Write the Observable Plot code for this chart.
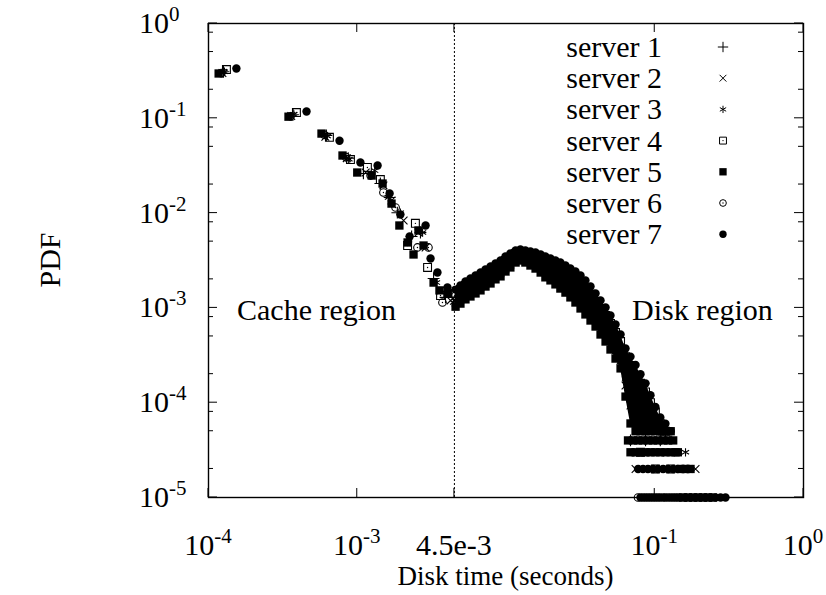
<!DOCTYPE html>
<html>
<head>
<meta charset="utf-8">
<script src="https://cdn.jsdelivr.net/npm/d3@7"></script>
<script src="https://cdn.jsdelivr.net/npm/@observablehq/plot@0.6"></script>
<style>
  body { margin: 0; background: #fff; }
  #chart { position: relative; width: 826px; height: 595px; }
</style>
</head>
<body>
<div id="chart"></div>
<script>
// ---------- data ----------
const servers = ["server 1", "server 2", "server 3", "server 4", "server 5", "server 6", "server 7"];
const cacheLimit = 4.5e-3; // seconds: boundary between cache hits and disk accesses

// Cache region: [disk time (s), PDF] per server
const cache1 = [[1.26e-4,0.31],[3.70e-4,0.109],[6.2e-4,0.066],[8.7e-4,0.038],[1.10e-3,0.0262],[1.43e-3,0.0205],[1.65e-3,0.0146],[1.86e-3,0.0101],[2.32e-3,0.00566],[2.66e-3,0.00624],[3.26e-3,0.00204],[3.92e-3,0.00129]];
const cache2 = [[1.24e-4,0.30],[3.6e-4,0.106],[6.1e-4,0.064],[8.5e-4,0.038],[1.14e-3,0.0268],[1.50e-3,0.0196],[1.70e-3,0.0136],[2.05e-3,0.00835],[2.58e-3,0.00624],[2.88e-3,0.00434],[3.63e-3,0.00153],[4.24e-3,0.0012]];
const cache3 = [[1.28e-4,0.31],[3.75e-4,0.11],[6.3e-4,0.065],[8.8e-4,0.037],[1.31e-3,0.0281],[1.62e-3,0.0146],[1.95e-3,0.0101],[2.75e-3,0.00624],[3.41e-3,0.00185],[4.44e-3,0.00114]];
const cache4 = [[1.32e-4,0.327],[3.9e-4,0.115],[6.5e-4,0.063],[9.0e-4,0.0367],[1.17e-3,0.0303],[1.43e-3,0.0226],[2.18e-3,0.00455],[2.46e-3,0.0078],[2.97e-3,0.00267],[3.63e-3,0.00135]];
const cache5 = [[1.17e-4,0.297],[3.45e-4,0.104],[5.75e-4,0.069],[7.96e-4,0.0405],[1.00e-3,0.0268],[1.25e-3,0.0249],[1.48e-3,0.0205],[1.70e-3,0.0126],[1.92e-3,0.0074],[2.18e-3,0.0049],[2.39e-3,0.00366],[2.58e-3,0.00655],[2.79e-3,0.00455],[3.26e-3,0.00185],[3.57e-3,0.00153],[4.04e-3,0.00142]];
const cache6 = [[1.22e-4,0.30],[3.55e-4,0.105],[6.0e-4,0.067],[8.4e-4,0.039],[1.23e-3,0.0249],[1.50e-3,0.0165],[1.81e-3,0.01146],[2.54e-3,0.00434],[3.01e-3,0.00434],[3.74e-3,0.00114]];
const cache7 = [[1.54e-4,0.335],[4.56e-4,0.118],[7.6e-4,0.058],[1.05e-3,0.0342],[1.37e-3,0.0318],[1.65e-3,0.0161],[1.95e-3,0.00966],[2.25e-3,0.00566],[2.88e-3,0.0074],[3.11e-3,0.00332],[3.46e-3,0.00236],[4.04e-3,0.00164]];

// Disk region: histogram bins (s) and PDF per server
const diskBins = [4.58e-3,4.94e-3,5.34e-3,5.77e-3,6.24e-3,6.74e-3,7.28e-3,7.87e-3,8.50e-3,9.19e-3,9.92e-3,1.07e-2,1.16e-2,1.25e-2,1.35e-2,1.46e-2,1.58e-2,1.71e-2,1.84e-2,1.99e-2,2.15e-2,2.32e-2,2.51e-2,2.71e-2,2.93e-2,3.17e-2,3.42e-2,3.70e-2,4.00e-2,4.32e-2,4.67e-2,5.04e-2,5.45e-2,5.89e-2,6.36e-2,6.87e-2,7.43e-2,8.02e-2,8.67e-2,9.36e-2,1.01e-1,1.09e-1,1.18e-1,1.28e-1];
const disk1 = [1.29e-3,1.39e-3,1.53e-3,1.64e-3,1.77e-3,1.90e-3,2.05e-3,2.20e-3,2.42e-3,2.60e-3,2.87e-3,3.16e-3,3.48e-3,3.57e-3,3.40e-3,3.32e-3,3.16e-3,2.94e-3,2.73e-3,2.54e-3,2.36e-3,2.20e-3,2.05e-3,1.85e-3,1.68e-3,1.49e-3,1.29e-3,1.11e-3,9.62e-4,7.92e-4,6.68e-4,5.50e-4,4.42e-4,3.55e-4,2.19e-4,1.52e-4,1.3e-4,1.2e-4,1.0e-4,8e-5,7e-5,6e-5,5e-5,null];
const disk2 = [1.14e-3,1.23e-3,1.35e-3,1.45e-3,1.56e-3,1.68e-3,1.81e-3,2.00e-3,2.15e-3,2.36e-3,2.60e-3,2.87e-3,3.24e-3,3.32e-3,3.24e-3,3.08e-3,2.87e-3,2.67e-3,2.42e-3,2.25e-3,2.05e-3,1.90e-3,1.72e-3,1.56e-3,1.39e-3,1.23e-3,1.06e-3,9.16e-4,7.92e-4,6.52e-4,5.50e-4,4.53e-4,3.55e-4,2.79e-4,1.52e-4,9.34e-5,8e-5,7e-5,6e-5,6e-5,5e-5,5e-5,null,null];
const disk3 = [1.20e-3,1.32e-3,1.45e-3,1.56e-3,1.68e-3,1.81e-3,1.95e-3,2.10e-3,2.31e-3,2.48e-3,2.73e-3,3.01e-3,3.32e-3,3.48e-3,3.32e-3,3.16e-3,3.01e-3,2.80e-3,2.60e-3,2.42e-3,2.20e-3,2.05e-3,1.85e-3,1.68e-3,1.53e-3,1.35e-3,1.17e-3,1.01e-3,8.73e-4,7.18e-4,6.06e-4,4.99e-4,4.01e-4,3.14e-4,1.80e-4,1.19e-4,1e-4,9e-5,8e-5,7e-5,6e-5,5e-5,5e-5,null];
const disk4 = [1.42e-3,1.56e-3,1.72e-3,1.85e-3,2.00e-3,2.15e-3,2.31e-3,2.48e-3,2.67e-3,2.87e-3,3.16e-3,3.40e-3,3.75e-3,3.84e-3,3.75e-3,3.66e-3,3.48e-3,3.32e-3,3.08e-3,2.94e-3,2.73e-3,2.60e-3,2.42e-3,2.20e-3,2.05e-3,1.81e-3,1.60e-3,1.39e-3,1.17e-3,9.86e-4,8.31e-4,6.84e-4,5.50e-4,4.42e-4,3.06e-4,2.47e-4,1.9e-4,1.6e-4,1.3e-4,1.0e-4,8e-5,6e-5,5e-5,null];
const disk5 = [1.03e-3,1.11e-3,1.23e-3,1.32e-3,1.42e-3,1.53e-3,1.68e-3,1.81e-3,2.00e-3,2.15e-3,2.42e-3,2.67e-3,3.01e-3,3.16e-3,3.01e-3,2.80e-3,2.60e-3,2.36e-3,2.10e-3,1.95e-3,1.77e-3,1.60e-3,1.45e-3,1.29e-3,1.14e-3,9.86e-4,8.53e-4,7.36e-4,6.36e-4,5.24e-4,4.42e-4,3.64e-4,2.92e-4,2.30e-4,1.16e-4,6.04e-5,5e-5,5e-5,5e-5,5e-5,5e-5,5e-5,5e-5,5e-5];
const disk6 = [1.35e-3,1.45e-3,1.60e-3,1.72e-3,1.85e-3,2.00e-3,2.15e-3,2.31e-3,2.54e-3,2.73e-3,3.01e-3,3.24e-3,3.57e-3,3.75e-3,3.57e-3,3.48e-3,3.32e-3,3.16e-3,2.94e-3,2.73e-3,2.54e-3,2.42e-3,2.20e-3,2.00e-3,1.85e-3,1.64e-3,1.45e-3,1.26e-3,1.06e-3,8.95e-4,7.55e-4,6.21e-4,4.99e-4,3.91e-4,2.66e-4,1.94e-4,1.6e-4,1.4e-4,1.1e-4,9e-5,6e-5,5e-5,null,null];
const disk7 = [1.56e-3,1.72e-3,1.90e-3,2.05e-3,2.20e-3,2.36e-3,2.54e-3,2.73e-3,2.94e-3,3.16e-3,3.48e-3,3.75e-3,4.03e-3,4.13e-3,4.03e-3,3.93e-3,3.84e-3,3.66e-3,3.48e-3,3.32e-3,3.16e-3,3.01e-3,2.80e-3,2.60e-3,2.42e-3,2.20e-3,1.95e-3,1.68e-3,1.42e-3,1.20e-3,1.01e-3,8.31e-4,6.68e-4,5.24e-4,3.73e-4,3.06e-4,2.5e-4,2.0e-4,1.6e-4,1.2e-4,9e-5,7e-5,6e-5,5e-5];

// Long tail: fine bins (s) and sample counts per bin; one sample = pdfUnit
const pdfUnit = 1e-5;
const tailBins = [6.61e-2,6.87e-2,7.14e-2,7.43e-2,7.72e-2,8.02e-2,8.34e-2,8.67e-2,9.01e-2,9.36e-2,9.73e-2,1.01e-1,1.05e-1,1.09e-1,1.14e-1,1.18e-1,1.23e-1,1.28e-1,1.33e-1,1.38e-1,1.43e-1,1.49e-1,1.55e-1,1.61e-1,1.67e-1,1.74e-1,1.81e-1,1.88e-1,1.95e-1,2.03e-1,2.11e-1,2.19e-1,2.28e-1,2.37e-1,2.46e-1,2.56e-1,2.66e-1,2.77e-1,2.88e-1,2.99e-1,3.11e-1];
const tail1 = [null,4,null,null,null,null,null,4,null,null,null,null,null,4,null,null,null,null,null,null,null,null,null,null,null,null,null,null,null,null,null,null,null,null,null,null,null,null,null,null,null];
const tail2 = [null,null,null,2,null,null,null,null,null,2,null,null,null,null,null,2,null,null,null,null,null,null,null,null,null,null,null,2,null,null,null,null,null,null,null,null,null,null,null,null,null];
const tail3 = [null,null,3,null,null,null,null,null,3,null,null,null,null,null,3,null,null,null,null,null,null,null,null,3,null,null,null,null,null,null,null,null,null,null,null,null,null,null,null,null,null];
const tail4 = [null,null,null,null,null,3,null,null,null,null,null,2,null,null,null,null,null,2,null,null,null,null,null,null,null,null,null,null,null,null,null,null,null,null,null,null,null,null,null,null,null];
const tail5 = [4,3,4,3,4,3,4,3,4,3,4,3,4,3,4,3,4,3,4,3,3,2,1,2,1,2,1,null,1,null,1,null,1,null,1,null,null,null,null,null,null];
const tail6 = [null,null,null,null,1,null,1,null,1,null,1,null,1,null,1,null,1,null,1,null,1,null,null,null,null,null,null,null,null,null,null,null,null,null,null,null,null,null,null,null,null];
const tail7 = [null,null,null,null,2,1,2,1,2,1,2,1,2,1,2,1,2,1,2,1,2,1,2,1,2,1,null,1,null,1,null,1,null,1,null,1,null,1,null,1,null];

// Axis ticks
const xTicks = [1e-4, 1e-3, 4.5e-3, 1e-1, 1];
const xTickLabels = [["10", "-4"], ["10", "-3"], ["4.5e-3", ""], ["10", "-1"], ["10", "0"]];
const yTicks = [1, 1e-1, 1e-2, 1e-3, 1e-4, 1e-5];
const yTickLabels = [["10", "0"], ["10", "-1"], ["10", "-2"], ["10", "-3"], ["10", "-4"], ["10", "-5"]];
const yMinorTicks = [0.8, 0.5, 0.2, 0.08, 0.05, 0.02, 8e-3, 5e-3, 2e-3, 8e-4, 5e-4, 2e-4, 8e-5, 5e-5, 2e-5];

// ---------- assemble ----------
const cache = [cache1, cache2, cache3, cache4, cache5, cache6, cache7];
const disk = [disk1, disk2, disk3, disk4, disk5, disk6, disk7];
const tail = [tail1, tail2, tail3, tail4, tail5, tail6, tail7];

const points = servers.map((name, s) => {
  const pts = [];
  cache[s].forEach(([t, pdf]) => pts.push({t, pdf}));
  disk[s].forEach((pdf, i) => { if (pdf != null) pts.push({t: diskBins[i], pdf}); });
  tail[s].forEach((c, i) => { if (c != null) pts.push({t: tailBins[i], pdf: c * pdfUnit}); });
  return pts;
});

// Spread of all servers in each disk bin: the dense body of the distribution
const spread = diskBins.map((t, i) => ({
  t,
  lo: d3.min(disk, d => d[i]),
  hi: d3.max(disk, d => d[i])
}));

// gnuplot-like point types
const styles = [
  {symbol: d3.symbolPlus,     r: 3.9, fill: "none",  stroke: "black"},
  {symbol: d3.symbolTimes,    r: 3.6, fill: "none",  stroke: "black"},
  {symbol: d3.symbolAsterisk, r: 3.9, fill: "none",  stroke: "black"},
  {symbol: d3.symbolSquare2,  r: 5.0, fill: "none",  stroke: "black", center: true},
  {symbol: d3.symbolSquare,   r: 4.7, fill: "black", stroke: "none"},
  {symbol: d3.symbolCircle,   r: 3.8, fill: "none",  stroke: "black", center: true},
  {symbol: d3.symbolCircle,   r: 4.2, fill: "black", stroke: "none"}
];
const legendScale = 0.88; // key symbols are drawn a little smaller

const FONT = "Liberation Serif, Times New Roman, serif";
const FS = 30, SUP = 21, TITLE = 27;

const marks = [
  Plot.ruleX([cacheLimit], {stroke: "black", strokeWidth: 1, strokeDasharray: "2,2"}),
  Plot.areaY(spread, {x: "t", y1: "lo", y2: "hi", fill: "black", curve: "linear"})
];
styles.forEach((st, s) => {
  marks.push(Plot.dot(points[s], {x: "t", y: "pdf", symbol: st.symbol, r: st.r, fill: st.fill, stroke: st.stroke, strokeWidth: 1.1}));
  if (st.center) marks.push(Plot.dot(points[s], {x: "t", y: "pdf", r: 0.7, fill: "black"}));
});
marks.push(Plot.frame({stroke: "black", strokeWidth: 1.4}));

const plot = Plot.plot({
  width: 826,
  height: 595,
  marginLeft: 208,
  marginRight: 23,
  marginTop: 23,
  marginBottom: 98,
  style: {background: "white", fontFamily: FONT},
  x: {type: "log", domain: [1e-4, 1], axis: null},
  y: {type: "log", domain: [1e-5, 1], axis: null},
  marks
});
document.getElementById("chart").appendChild(plot);

// ---------- ticks, labels, legend ----------
const xs = plot.scale("x"), ys = plot.scale("y");
const X = xs.apply ? v => xs.apply(v) : d3.scaleLog(xs.domain, xs.range);
const Y = ys.apply ? v => ys.apply(v) : d3.scaleLog(ys.domain, ys.range);
const [x0, x1] = [X(1e-4), X(1)];
const [yB, yT] = [Y(1e-5), Y(1)];

const svg = d3.select(plot);
const g = svg.append("g").attr("font-family", FONT).attr("fill", "black").attr("text-anchor", "start");
const ticks = g.append("g").attr("stroke", "black").attr("stroke-width", 1);

const MAJOR = 9, MINOR = 5;
yTicks.forEach(v => {
  const y = Y(v);
  ticks.append("line").attr("x1", x0).attr("x2", x0 + MAJOR).attr("y1", y).attr("y2", y);
  ticks.append("line").attr("x1", x1).attr("x2", x1 - MAJOR).attr("y1", y).attr("y2", y);
});
yMinorTicks.forEach(v => {
  const y = Y(v);
  ticks.append("line").attr("x1", x0).attr("x2", x0 + MINOR).attr("y1", y).attr("y2", y);
  ticks.append("line").attr("x1", x1).attr("x2", x1 - MINOR).attr("y1", y).attr("y2", y);
});
xTicks.forEach(v => {
  const x = X(v);
  ticks.append("line").attr("x1", x).attr("x2", x).attr("y1", yB).attr("y2", yB - MAJOR);
  ticks.append("line").attr("x1", x).attr("x2", x).attr("y1", yT).attr("y2", yT + MAJOR);
});

function label(parent, [base, exp]) {
  parent.append("tspan").text(base);
  if (exp) parent.append("tspan").attr("font-size", SUP).attr("dy", -12).text(exp);
}

yTicks.forEach((v, i) => {
  const t = g.append("text").attr("x", 139).attr("y", Y(v) + 10).attr("font-size", FS)
    .attr("text-anchor", "start");
  label(t, yTickLabels[i]);
});
xTicks.forEach((v, i) => {
  const t = g.append("text").attr("x", X(v)).attr("y", yB + 58).attr("font-size", FS)
    .attr("text-anchor", "middle");
  label(t, xTickLabels[i]);
});

// axis titles
g.append("text").attr("x", (x0 + x1) / 2).attr("y", yB + 88).attr("font-size", TITLE)
  .attr("text-anchor", "middle").text("Disk time (seconds)");
g.append("text").attr("transform", `translate(60,${(yB + yT) / 2}) rotate(-90)`)
  .attr("font-size", FS).attr("text-anchor", "middle").text("PDF");

// region annotations
g.append("text").attr("x", 237).attr("y", 320).attr("font-size", FS)
  .attr("text-anchor", "start").text("Cache region");
g.append("text").attr("x", 632).attr("y", 320).attr("font-size", FS)
  .attr("text-anchor", "start").text("Disk region");

// legend
const legend = g.append("g");
servers.forEach((name, s) => {
  const cy = 47 + s * 31.2;
  legend.append("text").attr("x", 662).attr("y", cy + 10).attr("font-size", FS)
    .attr("text-anchor", "end").text(name);
  const st = styles[s];
  const r = st.r * legendScale;
  legend.append("path")
    .attr("transform", `translate(723,${cy})`)
    .attr("d", d3.symbol(st.symbol, Math.PI * r * r)())
    .attr("fill", st.fill).attr("stroke", st.stroke).attr("stroke-width", 1);
  if (st.center) legend.append("circle").attr("cx", 723).attr("cy", cy).attr("r", 0.7).attr("fill", "black");
});
</script>
</body>
</html>
